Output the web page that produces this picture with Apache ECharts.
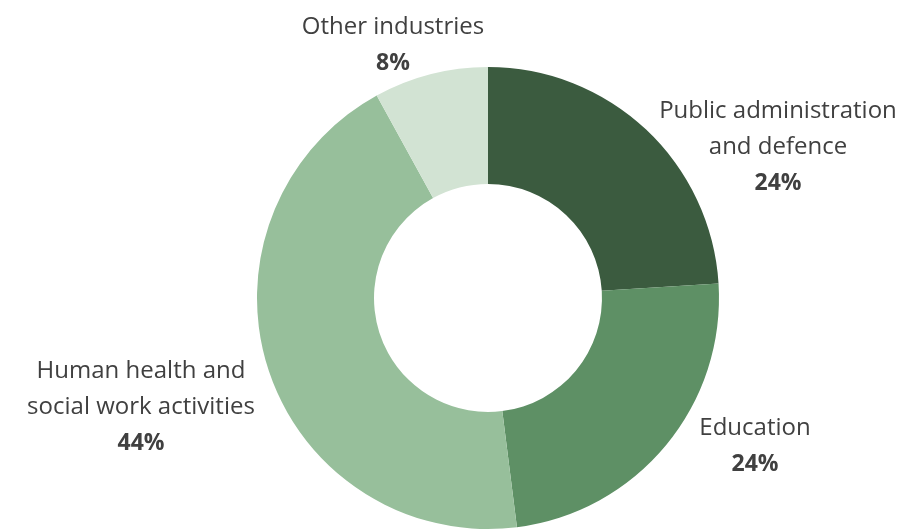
<!DOCTYPE html>
<html>
<head>
<meta charset="utf-8">
<script src="https://cdn.jsdelivr.net/npm/echarts@6/dist/echarts.min.js"></script>
<style>
  html, body { margin: 0; padding: 0; background: #ffffff; }
  #chart { width: 913px; height: 531px; }
</style>
</head>
<body>
<div id="chart"></div>
<script>
// Employment share by industry (percent)
const categories = [
  'Public administration\nand defence',
  'Education',
  'Human health and\nsocial work activities',
  'Other industries'
];
const shares = [24, 24, 44, 8];
const sliceColors = ['#3b5b3f', '#5e9065', '#97bf9b', '#d2e3d3'];

// Where each label block sits (centre of the text block, in px)
const labelSpots = [
  { x: 778, y: 147 },
  { x: 755, y: 446 },
  { x: 141, y: 407 },
  { x: 393, y: 45 }
];

const chart = echarts.init(document.getElementById('chart'), null, { renderer: 'canvas' });

chart.setOption({
  animation: false,
  series: [{
    type: 'pie',
    center: ['488px', '298px'],
    radius: [114, 231],
    startAngle: 90,
    clockwise: true,
    avoidLabelOverlap: false,
    data: categories.map((name, i) => ({
      name: name,
      value: shares[i],
      itemStyle: { color: sliceColors[i] }
    })),
    itemStyle: { borderWidth: 0 },
    label: {
      show: true,
      position: 'outside',
      formatter: p => p.name + '\n{pct|' + p.value + '%}',
      fontFamily: 'Open Sans',
      fontSize: 24,
      lineHeight: 36,
      color: '#404040',
      align: 'center',
      rich: {
        pct: {
          fontFamily: 'Open Sans',
          fontSize: 23,
          lineHeight: 36,
          fontWeight: 'bold',
          color: '#404040'
        }
      }
    },
    labelLine: { show: false },
    labelLayout: params => ({
      x: labelSpots[params.dataIndex].x,
      y: labelSpots[params.dataIndex].y,
      align: 'center',
      verticalAlign: 'middle'
    })
  }]
});
</script>
</body>
</html>
